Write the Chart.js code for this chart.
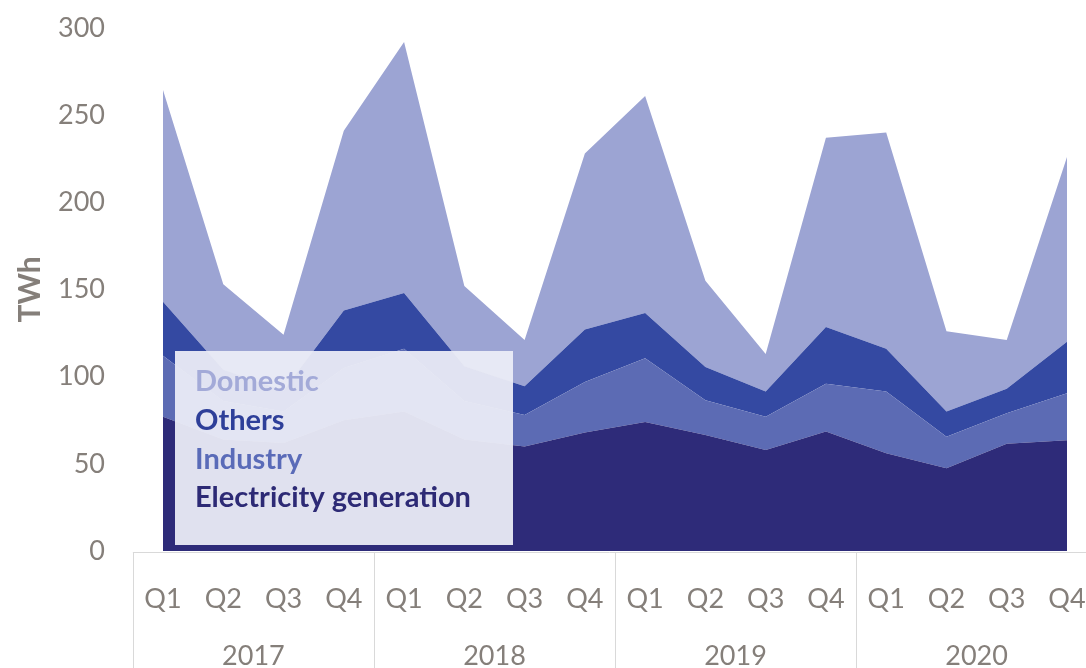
<!DOCTYPE html>
<html lang="en">
<head>
    <meta charset="UTF-8">
    <title>Gas demand by sector, TWh</title>
    <style>
        html, body { margin: 0; padding: 0; background: #fff; }
        #chart-container { width: 1086px; height: 668px; }
    </style>
    <script src="https://cdn.jsdelivr.net/npm/chart.js"></script>
</head>
<body>
    <div id="chart-container">
        <canvas id="demandChart" width="1086" height="668"></canvas>
    </div>
    <script>
        // quarters and years on the two-level x axis
        const quarters = ["Q1", "Q2", "Q3", "Q4", "Q1", "Q2", "Q3", "Q4",
                          "Q1", "Q2", "Q3", "Q4", "Q1", "Q2", "Q3", "Q4"];
        const years = ["2017", "2018", "2019", "2020"];

        // TWh per quarter for each sector (stacked from the bottom)
        const electricity = [77, 64, 62, 75, 80, 64, 60, 68, 74, 66.5, 58, 68.5, 56, 47.5, 61.5, 63.5];
        const industry    = [35, 22, 18, 30, 36, 22, 18, 29, 36.5, 20, 19, 27.5, 35.5, 18, 17.5, 27];
        const others      = [31, 18, 12, 33, 32, 20, 16.5, 30, 26, 19, 14.5, 32.5, 24.5, 14.5, 14, 29.5];
        const domestic    = [121.5, 49, 32, 103, 144, 46, 26.5, 101, 124.5, 49.5, 21.5, 108.5, 124, 46, 28, 106];

        const yTicks = [0, 50, 100, 150, 200, 250, 300];

        const grey = '#857f7a';
        const fontFamily = 'Lato, "Open Sans", sans-serif';

        const series = [
            { label: 'Electricity generation', data: electricity, color: '#2e2b79', text: '#2d2a75' },
            { label: 'Industry', data: industry, color: '#5c6bb4', text: '#5a6bb8' },
            { label: 'Others', data: others, color: '#3449a2', text: '#2e3f99' },
            { label: 'Domestic', data: domestic, color: '#9ca4d3', text: '#a3aad8' }
        ];

        // year labels, separators and the boxed legend
        const decorations = {
            id: 'decorations',
            afterDraw(chart) {
                const ctx = chart.ctx;
                const x = chart.scales.x;
                const area = chart.chartArea;
                const step = x.getPixelForValue(1) - x.getPixelForValue(0);

                ctx.save();
                ctx.strokeStyle = '#d9d9d9';
                ctx.lineWidth = 1;
                ctx.beginPath();
                ctx.moveTo(x.getPixelForValue(0) - step / 2, area.bottom + 1.5);
                ctx.lineTo(chart.width, area.bottom + 1.5);
                for (let i = 0; i <= years.length; i++) {
                    const sx = Math.round(x.getPixelForValue(i * 4) - step / 2) + 0.5;
                    ctx.moveTo(sx, area.bottom + 2);
                    ctx.lineTo(sx, chart.height);
                }
                ctx.stroke();

                ctx.fillStyle = grey;
                ctx.font = '27px ' + fontFamily;
                ctx.textAlign = 'center';
                ctx.textBaseline = 'middle';
                years.forEach((yr, i) => {
                    const cx = (x.getPixelForValue(i * 4) + x.getPixelForValue(i * 4 + 3)) / 2;
                    ctx.fillText(yr, cx, area.bottom + 105);
                });

                // legend
                const lx = area.left + 12, ly = area.bottom - 200, lw = 338, lh = 194;
                ctx.fillStyle = 'rgba(236, 237, 247, 0.94)';
                ctx.fillRect(lx, ly, lw, lh);
                ctx.font = 'bold 29px ' + fontFamily;
                ctx.textAlign = 'left';
                const order = series.slice().reverse();
                order.forEach((s, i) => {
                    ctx.fillStyle = s.text;
                    ctx.fillText(s.label, lx + 20, ly + 31 + i * 38.7);
                });
                ctx.restore();
            }
        };

        const ctx = document.getElementById('demandChart').getContext('2d');
        new Chart(ctx, {
            type: 'line',
            data: {
                labels: quarters,
                datasets: series.map((s, i) => ({
                    label: s.label,
                    data: s.data,
                    backgroundColor: s.color,
                    borderWidth: 0,
                    pointRadius: 0,
                    tension: 0,
                    fill: i === 0 ? 'origin' : '-1'
                }))
            },
            options: {
                responsive: false,
                animation: false,
                layout: { padding: { top: 28, right: 19, left: 0, bottom: 0 } },
                plugins: {
                    legend: { display: false },
                    tooltip: { enabled: false }
                },
                scales: {
                    x: {
                        offset: false,
                        grid: { display: false, drawTicks: false },
                        border: { display: false },
                        ticks: {
                            color: grey,
                            font: { family: fontFamily, size: 27 },
                            padding: 32,
                            maxRotation: 0,
                            autoSkip: false
                        },
                        afterFit(scale) {
                            scale.height = 117;
                            scale.paddingLeft = 0;
                            scale.paddingRight = 0;
                        }
                    },
                    y: {
                        stacked: true,
                        min: 0,
                        max: 300,
                        afterBuildTicks(scale) {
                            scale.ticks = yTicks.map(v => ({ value: v }));
                        },
                        grid: { display: false, drawTicks: false },
                        border: { display: false },
                        ticks: {
                            color: grey,
                            font: { family: fontFamily, size: 27 },
                            padding: 58
                        },
                        title: {
                            display: true,
                            text: 'TWh',
                            color: grey,
                            font: { family: fontFamily, size: 30, weight: 'bold' },
                            padding: { top: 12, bottom: 0 }
                        },
                        afterFit(scale) {
                            scale.width = 163;
                            scale.paddingTop = 0;
                            scale.paddingBottom = 0;
                        }
                    }
                }
            },
            plugins: [decorations]
        });
    </script>
</body>
</html>
